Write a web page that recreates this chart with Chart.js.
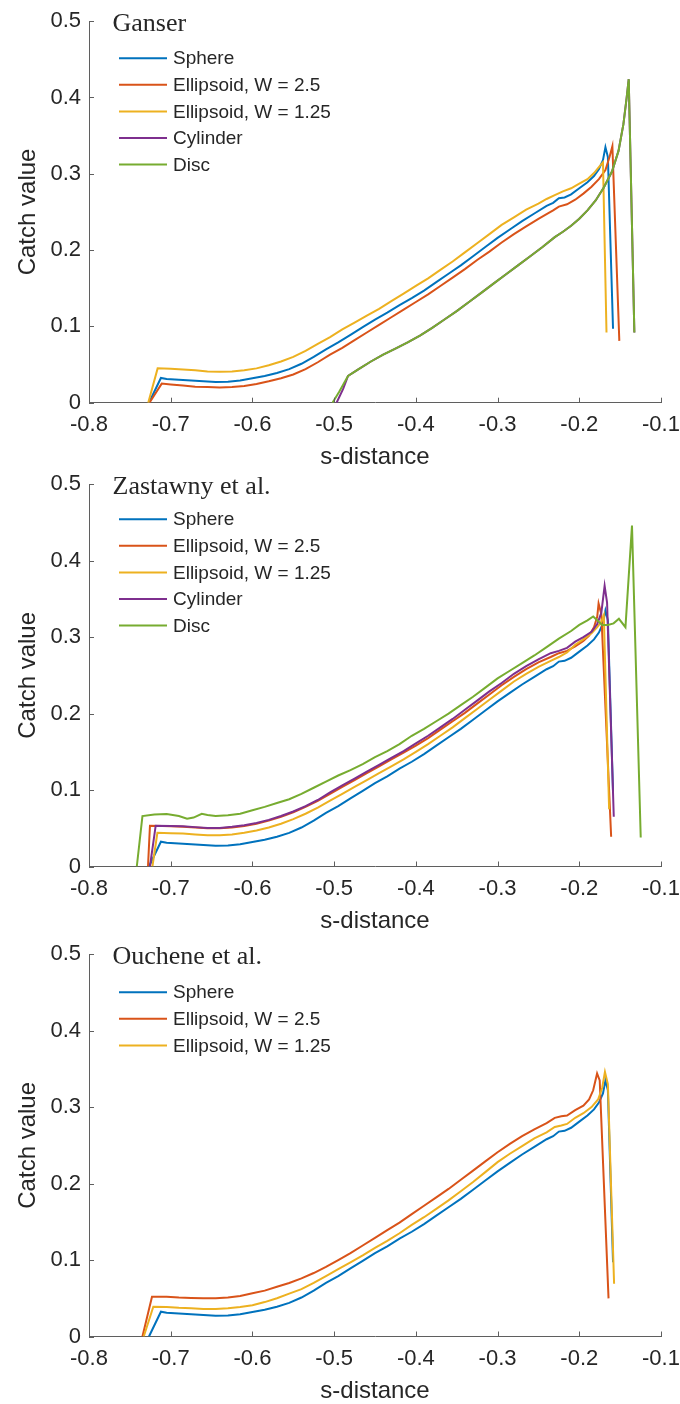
<!DOCTYPE html>
<html>
<head>
<meta charset="utf-8">
<script src="https://cdn.jsdelivr.net/npm/chart.js@4.4.1/dist/chart.umd.min.js"></script>
<style>
  html, body { margin: 0; padding: 0; background: #ffffff; }
  body { width: 680px; height: 1404px; position: relative; overflow: hidden; }
  canvas { position: absolute; left: 0; }
</style>
</head>
<body>
<canvas id="ganser"></canvas>
<canvas id="zastawny"></canvas>
<canvas id="ouchene"></canvas>
<script>
// Series names and colours (same order in every panel)
const seriesNames = ['Sphere', 'Ellipsoid, W = 2.5', 'Ellipsoid, W = 1.25', 'Cylinder', 'Disc'];
const seriesColors = ['#0072BD', '#D95319', '#EDB120', '#7E2F8E', '#77AC30'];

// Axis tick labels
const xTickLabels = ['-0.8', '-0.7', '-0.6', '-0.5', '-0.4', '-0.3', '-0.2', '-0.1'];
const yTickLabels = ['0', '0.1', '0.2', '0.3', '0.4', '0.5'];

// [s-distance, catch value] pairs
const sphere = [
  [-0.7266, 0], [-0.712, 0.0324], [-0.705, 0.031], [-0.69, 0.030], [-0.675, 0.029], [-0.66, 0.028],
  [-0.645, 0.027], [-0.63, 0.0275], [-0.615, 0.029], [-0.6, 0.032], [-0.585, 0.035], [-0.57, 0.039],
  [-0.555, 0.044], [-0.54, 0.051], [-0.525, 0.060], [-0.51, 0.070], [-0.495, 0.079], [-0.48, 0.089],
  [-0.465, 0.099], [-0.45, 0.109], [-0.435, 0.118], [-0.42, 0.128], [-0.405, 0.137], [-0.39, 0.147],
  [-0.375, 0.158], [-0.36, 0.169], [-0.345, 0.180], [-0.33, 0.192], [-0.315, 0.204], [-0.3, 0.216],
  [-0.285, 0.227], [-0.27, 0.238], [-0.255, 0.248], [-0.24, 0.258], [-0.232, 0.262], [-0.225, 0.268],
  [-0.218, 0.269], [-0.21, 0.273], [-0.2, 0.281], [-0.19, 0.289], [-0.182, 0.297], [-0.176, 0.306],
  [-0.171, 0.318], [-0.168, 0.335], [-0.165, 0.322], [-0.1587, 0.097]
];

// Ganser drag model
const ganserEll25 = [
  [-0.726, 0], [-0.711, 0.025], [-0.70, 0.024], [-0.685, 0.0225], [-0.67, 0.021], [-0.655, 0.0205],
  [-0.64, 0.020], [-0.625, 0.0205], [-0.61, 0.022], [-0.595, 0.0245], [-0.58, 0.028], [-0.565, 0.032],
  [-0.55, 0.037], [-0.535, 0.044], [-0.52, 0.053], [-0.505, 0.063], [-0.49, 0.072], [-0.475, 0.082],
  [-0.46, 0.092], [-0.445, 0.102], [-0.43, 0.112], [-0.415, 0.122], [-0.4, 0.132], [-0.385, 0.142],
  [-0.37, 0.153], [-0.355, 0.164], [-0.34, 0.175], [-0.325, 0.187], [-0.31, 0.198], [-0.295, 0.210],
  [-0.28, 0.221], [-0.265, 0.231], [-0.25, 0.241], [-0.24, 0.247], [-0.232, 0.252], [-0.225, 0.257],
  [-0.215, 0.260], [-0.205, 0.266], [-0.195, 0.274], [-0.185, 0.283], [-0.176, 0.293], [-0.168, 0.305],
  [-0.163, 0.322], [-0.1595, 0.336], [-0.151, 0.081]
];
const ganserEll125 = [
  [-0.7275, 0], [-0.716, 0.045], [-0.70, 0.0445], [-0.685, 0.0435], [-0.67, 0.0425], [-0.655, 0.041],
  [-0.64, 0.0405], [-0.625, 0.041], [-0.61, 0.0425], [-0.595, 0.045], [-0.58, 0.049], [-0.565, 0.054],
  [-0.55, 0.060], [-0.535, 0.068], [-0.52, 0.077], [-0.505, 0.086], [-0.49, 0.096], [-0.475, 0.105],
  [-0.46, 0.114], [-0.445, 0.123], [-0.43, 0.133], [-0.415, 0.143], [-0.4, 0.153], [-0.385, 0.163],
  [-0.37, 0.174], [-0.355, 0.185], [-0.34, 0.197], [-0.325, 0.209], [-0.31, 0.221], [-0.295, 0.233],
  [-0.28, 0.243], [-0.265, 0.253], [-0.25, 0.261], [-0.24, 0.267], [-0.23, 0.272], [-0.22, 0.277],
  [-0.21, 0.281], [-0.2, 0.287], [-0.19, 0.293], [-0.182, 0.301], [-0.175, 0.310], [-0.171, 0.315],
  [-0.1667, 0.092]
];
const ganserCylinder = [
  [-0.497, 0], [-0.489, 0.018], [-0.483, 0.035], [-0.47, 0.044], [-0.455, 0.054], [-0.44, 0.063],
  [-0.425, 0.071], [-0.41, 0.079], [-0.395, 0.088], [-0.38, 0.098], [-0.365, 0.109], [-0.35, 0.120],
  [-0.335, 0.132], [-0.32, 0.144], [-0.305, 0.156], [-0.29, 0.168], [-0.275, 0.180], [-0.26, 0.192],
  [-0.245, 0.204], [-0.23, 0.217], [-0.22, 0.224], [-0.21, 0.232], [-0.2, 0.241], [-0.19, 0.252],
  [-0.18, 0.265], [-0.17, 0.282], [-0.16, 0.303], [-0.152, 0.330], [-0.146, 0.365], [-0.142, 0.400],
  [-0.1395, 0.424], [-0.1326, 0.092]
];
const ganserDisc = [
  [-0.502, 0], [-0.494, 0.014], [-0.483, 0.035], [-0.47, 0.044], [-0.455, 0.054], [-0.44, 0.063],
  [-0.425, 0.071], [-0.41, 0.079], [-0.395, 0.088], [-0.38, 0.098], [-0.365, 0.109], [-0.35, 0.120],
  [-0.335, 0.132], [-0.32, 0.144], [-0.305, 0.156], [-0.29, 0.168], [-0.275, 0.180], [-0.26, 0.192],
  [-0.245, 0.204], [-0.23, 0.217], [-0.22, 0.224], [-0.21, 0.232], [-0.2, 0.241], [-0.19, 0.252],
  [-0.18, 0.265], [-0.17, 0.282], [-0.16, 0.303], [-0.152, 0.330], [-0.146, 0.365], [-0.142, 0.400],
  [-0.1395, 0.424], [-0.1326, 0.092]
];

// Zastawny et al. drag model
const zastawnyEll25 = [
  [-0.7278, 0], [-0.7254, 0.0534], [-0.71, 0.053], [-0.70, 0.0525], [-0.685, 0.052], [-0.67, 0.051],
  [-0.655, 0.050], [-0.64, 0.050], [-0.625, 0.051], [-0.61, 0.053], [-0.595, 0.056], [-0.58, 0.060],
  [-0.565, 0.065], [-0.55, 0.071], [-0.535, 0.078], [-0.52, 0.086], [-0.505, 0.095], [-0.49, 0.104],
  [-0.475, 0.113], [-0.46, 0.122], [-0.445, 0.131], [-0.43, 0.140], [-0.415, 0.149], [-0.4, 0.158],
  [-0.385, 0.168], [-0.37, 0.179], [-0.355, 0.190], [-0.34, 0.201], [-0.325, 0.213], [-0.31, 0.225],
  [-0.295, 0.237], [-0.28, 0.248], [-0.265, 0.258], [-0.25, 0.267], [-0.235, 0.274], [-0.225, 0.279],
  [-0.215, 0.282], [-0.205, 0.288], [-0.195, 0.295], [-0.188, 0.302], [-0.182, 0.313], [-0.178, 0.327],
  [-0.1764, 0.344], [-0.173, 0.330], [-0.161, 0.039]
];
const zastawnyEll125 = [
  [-0.7224, 0], [-0.7163, 0.044], [-0.70, 0.0435], [-0.685, 0.043], [-0.67, 0.042], [-0.655, 0.041],
  [-0.64, 0.041], [-0.625, 0.042], [-0.61, 0.044], [-0.595, 0.047], [-0.58, 0.051], [-0.565, 0.056],
  [-0.55, 0.062], [-0.535, 0.069], [-0.52, 0.077], [-0.505, 0.086], [-0.49, 0.095], [-0.475, 0.104],
  [-0.46, 0.113], [-0.445, 0.122], [-0.43, 0.131], [-0.415, 0.140], [-0.4, 0.150], [-0.385, 0.160],
  [-0.37, 0.171], [-0.355, 0.182], [-0.34, 0.194], [-0.325, 0.206], [-0.31, 0.218], [-0.295, 0.230],
  [-0.28, 0.242], [-0.265, 0.252], [-0.25, 0.261], [-0.235, 0.269], [-0.225, 0.274], [-0.215, 0.280],
  [-0.205, 0.290], [-0.195, 0.297], [-0.185, 0.305], [-0.178, 0.313], [-0.173, 0.320], [-0.17, 0.3285],
  [-0.1635, 0.075]
];
const zastawnyCylinder = [
  [-0.7254, 0], [-0.7184, 0.0534], [-0.70, 0.053], [-0.685, 0.0525], [-0.67, 0.0515], [-0.655, 0.0505],
  [-0.64, 0.0505], [-0.625, 0.052], [-0.61, 0.054], [-0.595, 0.057], [-0.58, 0.061], [-0.565, 0.066],
  [-0.55, 0.072], [-0.535, 0.079], [-0.52, 0.087], [-0.505, 0.097], [-0.49, 0.106], [-0.475, 0.115],
  [-0.46, 0.124], [-0.445, 0.133], [-0.43, 0.142], [-0.415, 0.151], [-0.4, 0.161], [-0.385, 0.171],
  [-0.37, 0.182], [-0.355, 0.193], [-0.34, 0.205], [-0.325, 0.217], [-0.31, 0.229], [-0.295, 0.240],
  [-0.28, 0.252], [-0.265, 0.262], [-0.25, 0.271], [-0.235, 0.279], [-0.225, 0.282], [-0.215, 0.286],
  [-0.205, 0.294], [-0.195, 0.300], [-0.185, 0.307], [-0.178, 0.317], [-0.173, 0.332], [-0.169, 0.367],
  [-0.166, 0.345], [-0.1578, 0.065]
];
const zastawnyDisc = [
  [-0.7415, 0], [-0.7346, 0.066], [-0.72, 0.068], [-0.705, 0.0685], [-0.69, 0.066], [-0.68, 0.0625],
  [-0.672, 0.064], [-0.662, 0.069], [-0.655, 0.0675], [-0.645, 0.066], [-0.63, 0.067], [-0.615, 0.069],
  [-0.6, 0.0735], [-0.585, 0.078], [-0.57, 0.083], [-0.555, 0.088], [-0.54, 0.095], [-0.525, 0.103],
  [-0.51, 0.111], [-0.495, 0.119], [-0.48, 0.126], [-0.465, 0.134], [-0.45, 0.143], [-0.435, 0.151],
  [-0.42, 0.160], [-0.405, 0.171], [-0.39, 0.180], [-0.375, 0.190], [-0.36, 0.200], [-0.345, 0.211],
  [-0.33, 0.222], [-0.315, 0.234], [-0.3, 0.246], [-0.285, 0.256], [-0.27, 0.266], [-0.255, 0.276],
  [-0.24, 0.287], [-0.225, 0.298], [-0.21, 0.308], [-0.2, 0.316], [-0.19, 0.322], [-0.183, 0.327],
  [-0.178, 0.322], [-0.172, 0.316], [-0.165, 0.316], [-0.158, 0.318], [-0.1515, 0.324], [-0.1435, 0.313],
  [-0.1355, 0.4458], [-0.1248, 0.038]
];

// Ouchene et al. drag model
const oucheneEll25 = [
  [-0.7346, 0], [-0.7229, 0.0521], [-0.705, 0.052], [-0.69, 0.051], [-0.675, 0.0505], [-0.66, 0.050],
  [-0.645, 0.050], [-0.63, 0.051], [-0.615, 0.053], [-0.6, 0.0565], [-0.585, 0.060], [-0.57, 0.065],
  [-0.555, 0.070], [-0.54, 0.076], [-0.525, 0.083], [-0.51, 0.091], [-0.495, 0.100], [-0.48, 0.109],
  [-0.465, 0.119], [-0.45, 0.129], [-0.435, 0.139], [-0.42, 0.149], [-0.405, 0.160], [-0.39, 0.171],
  [-0.375, 0.182], [-0.36, 0.193], [-0.345, 0.205], [-0.33, 0.217], [-0.315, 0.229], [-0.3, 0.241],
  [-0.285, 0.252], [-0.27, 0.262], [-0.255, 0.271], [-0.24, 0.279], [-0.23, 0.286], [-0.222, 0.288],
  [-0.215, 0.289], [-0.205, 0.296], [-0.195, 0.302], [-0.188, 0.310], [-0.183, 0.322], [-0.1782, 0.344],
  [-0.175, 0.335], [-0.1642, 0.0499]
];
const oucheneEll125 = [
  [-0.733, 0], [-0.7213, 0.039], [-0.705, 0.0385], [-0.69, 0.0375], [-0.675, 0.037], [-0.66, 0.036],
  [-0.645, 0.036], [-0.63, 0.037], [-0.615, 0.0385], [-0.6, 0.041], [-0.585, 0.045], [-0.57, 0.050],
  [-0.555, 0.056], [-0.54, 0.062], [-0.525, 0.070], [-0.51, 0.079], [-0.495, 0.088], [-0.48, 0.097],
  [-0.465, 0.106], [-0.45, 0.116], [-0.435, 0.125], [-0.42, 0.135], [-0.405, 0.146], [-0.39, 0.156],
  [-0.375, 0.167], [-0.36, 0.178], [-0.345, 0.190], [-0.33, 0.202], [-0.315, 0.215], [-0.3, 0.228],
  [-0.285, 0.239], [-0.27, 0.249], [-0.255, 0.259], [-0.24, 0.267], [-0.23, 0.274], [-0.222, 0.276],
  [-0.215, 0.278], [-0.205, 0.286], [-0.195, 0.292], [-0.185, 0.300], [-0.177, 0.310], [-0.172, 0.325],
  [-0.1686, 0.346], [-0.165, 0.330], [-0.1574, 0.069]
];

const axisColor = '#5f5f5f';
const textColor = '#262626';
const sansFont = '"Liberation Sans", Arial, Helvetica, sans-serif';
const serifFont = '"Liberation Serif", "Times New Roman", serif';

// Inside tick marks, panel title and in-plot legend
const panelDecor = {
  id: 'panelDecor',
  afterDraw(chart, args, opts) {
    const { ctx, chartArea, scales } = chart;
    const { left, top, bottom } = chartArea;
    ctx.save();
    ctx.strokeStyle = axisColor;
    ctx.lineWidth = 1;
    ctx.beginPath();
    scales.x.ticks.forEach(t => {
      const px = Math.round(scales.x.getPixelForValue(t.value)) + 0.5;
      ctx.moveTo(px, bottom);
      ctx.lineTo(px, bottom - 5);
    });
    scales.y.ticks.forEach(t => {
      const py = Math.round(scales.y.getPixelForValue(t.value)) + 0.5;
      ctx.moveTo(left, py);
      ctx.lineTo(left + 5, py);
    });
    ctx.stroke();

    ctx.fillStyle = textColor;
    ctx.textAlign = 'left';
    ctx.textBaseline = 'alphabetic';
    ctx.font = '26px ' + serifFont;
    ctx.fillText(opts.title, left + 23.5, top + opts.titleOffset);

    ctx.font = '19px ' + sansFont;
    ctx.textBaseline = 'middle';
    ctx.lineWidth = 2;
    chart.data.datasets.forEach((ds, i) => {
      const yy = top + opts.legendOffset + i * opts.legendGap;
      ctx.strokeStyle = ds.borderColor;
      ctx.beginPath();
      ctx.moveTo(left + 30, yy);
      ctx.lineTo(left + 78, yy);
      ctx.stroke();
      ctx.fillText(ds.label, left + 84, yy + 1);
    });
    ctx.restore();
  }
};

const panels = [
  { id: 'ganser', title: 'Ganser', canvasTop: 0, canvasHeight: 478, plotTop: 20.5, plotBottom: 402.7,
    titleOffset: 10, legendOffset: 37, legendGap: 26.6,
    series: [sphere, ganserEll25, ganserEll125, ganserCylinder, ganserDisc] },
  { id: 'zastawny', title: 'Zastawny et al.', canvasTop: 463, canvasHeight: 478, plotTop: 483.5, plotBottom: 866.5,
    titleOffset: 10, legendOffset: 35, legendGap: 26.6,
    series: [sphere, zastawnyEll25, zastawnyEll125, zastawnyCylinder, zastawnyDisc] },
  { id: 'ouchene', title: 'Ouchene et al.', canvasTop: 933, canvasHeight: 471, plotTop: 953, plotBottom: 1336.5,
    titleOffset: 10, legendOffset: 38, legendGap: 26.6,
    series: [sphere, oucheneEll25, oucheneEll125] }
];

panels.forEach(p => {
  const canvas = document.getElementById(p.id);
  canvas.width = 680;
  canvas.height = p.canvasHeight;
  canvas.style.top = p.canvasTop + 'px';
  canvas.style.width = '680px';
  canvas.style.height = p.canvasHeight + 'px';

  const xAxisHeight = p.canvasHeight - (p.plotBottom - p.canvasTop);
  const n = p.series.length;

  new Chart(canvas, {
    type: 'line',
    data: {
      datasets: p.series.map((pts, i) => ({
        label: seriesNames[i],
        data: pts.map(([x, y]) => ({ x, y })),
        borderColor: seriesColors[i],
        backgroundColor: seriesColors[i],
        borderWidth: 2,
        pointRadius: 0,
        tension: 0,
        fill: false,
        order: n - i
      }))
    },
    options: {
      responsive: false,
      animation: false,
      events: [],
      devicePixelRatio: 1,
      layout: { padding: { top: p.plotTop - p.canvasTop, right: 19, bottom: 0, left: 0 } },
      plugins: {
        legend: { display: false },
        tooltip: { enabled: false },
        panelDecor: { title: p.title, titleOffset: p.titleOffset, legendOffset: p.legendOffset, legendGap: p.legendGap }
      },
      scales: {
        x: {
          type: 'linear',
          min: -0.8,
          max: -0.1,
          grid: { display: false, drawTicks: false },
          border: { display: true, color: axisColor, width: 1 },
          ticks: {
            stepSize: 0.1,
            autoSkip: false,
            maxRotation: 0,
            padding: 9,
            color: textColor,
            font: { family: sansFont, size: 22 },
            callback: (v, i) => xTickLabels[i]
          },
          title: {
            display: true,
            text: 's-distance',
            color: textColor,
            font: { family: sansFont, size: 24 },
            padding: { top: 0, bottom: xAxisHeight - 69.4 }
          },
          afterFit: s => {
            s.height = xAxisHeight;
            s.paddingLeft = 0;
            s.paddingRight = 19;
          }
        },
        y: {
          type: 'linear',
          min: 0,
          max: 0.5,
          grid: { display: false, drawTicks: false },
          border: { display: true, color: axisColor, width: 1 },
          ticks: {
            stepSize: 0.1,
            padding: 8,
            color: textColor,
            font: { family: sansFont, size: 22 },
            callback: (v, i) => yTickLabels[i]
          },
          title: {
            display: true,
            text: 'Catch value',
            color: textColor,
            font: { family: sansFont, size: 24 },
            padding: { top: 13.6, bottom: 0 }
          },
          afterFit: s => { s.width = 89; }
        }
      }
    },
    plugins: [panelDecor]
  });
});
</script>
</body>
</html>
